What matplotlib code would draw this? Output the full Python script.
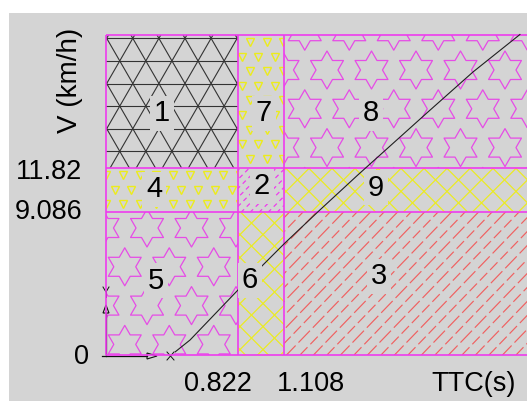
import numpy as np
import matplotlib
matplotlib.use('Agg')
import matplotlib.pyplot as plt
from matplotlib.patches import Rectangle, Polygon
from matplotlib.collections import LineCollection, PolyCollection

plt.rcParams['font.family'] = ['Liberation Sans', 'DejaVu Sans']

# ---------------- data ----------------
x_breaks = [0.822, 1.108]          # TTC thresholds (s)
y_breaks = [9.086, 11.82]          # speed thresholds (km/h)
x_max = 2.615
y_max = 20.3
curve_ttc = [0.43, 0.522, 0.820, 1.112, 1.329, 1.565, 1.994, 2.280, 2.571]
curve_v = [0.2, 0.95, 4.12, 7.10, 9.19, 11.41, 15.34, 17.93, 20.3]
# region ids: rows bottom->top, cols left->right
region_ids = [[5, 6, 3],
              [4, 2, 9],
              [1, 7, 8]]
region_label_x = {1: 0.348, 7: 0.981, 8: 1.646, 4: 0.298, 2: 0.969, 9: 1.677,
                  5: 0.311, 6: 0.894, 3: 1.695}
region_label_y = {1: 15.3, 7: 15.3, 8: 15.3, 4: 10.5, 2: 10.7, 9: 10.6,
                  5: 4.7, 6: 4.75, 3: 5.0}
x_label = 'TTC(s)'
y_label = 'V (km/h)'

# ---------------- styles ----------------
BG = '#d4d4d4'
MAG = '#ee3cee'
STAR = '#e64ce6'
YEL = '#ecec1c'
SAL = '#f06060'
LAT = '#333333'

W, H = 527, 401
fig = plt.figure(figsize=(W / 100, H / 100), dpi=100)
fig.patch.set_facecolor('white')
fig.add_artist(Rectangle((9 / W, 0), 1 - 9 / W, 1 - 13 / H, transform=fig.transFigure,
                         facecolor=BG, edgecolor='none', zorder=0))

# pixel overlay axes (image coords, y down)
pax = fig.add_axes([0, 0, 1, 1])
pax.set_xlim(0, W)
pax.set_ylim(H, 0)
pax.axis('off')
pax.patch.set_alpha(0)

ax = fig.add_axes([106 / W, 1 - 355 / H, (W - 106) / W, (355 - 34.5) / H])
ax.set_xlim(0, x_max)
ax.set_ylim(0, y_max)
ax.axis('off')
ax.patch.set_alpha(0)
ax.set_zorder(3)


def to_px(x, y):
    d = ax.transData.transform((x, y))
    return d[0], H - d[1]


xe = [0] + x_breaks + [x_max]
ye = [0] + y_breaks + [y_max]


def region_rect(i, j):
    x0, y0 = to_px(xe[j], ye[i])
    x1, y1 = to_px(xe[j + 1], ye[i + 1])
    return (min(x0, x1), max(x0, x1), min(y0, y1), max(y0, y1))


def clip_patch(r):
    x0, x1, y0, y1 = r
    return Rectangle((x0, y0), x1 - x0, y1 - y0, transform=pax.transData)


def add_lines(segs, r, color, lw, ls='solid'):
    lc = LineCollection(segs, colors=color, linewidths=lw, linestyles=ls)
    pax.add_collection(lc)
    lc.set_clip_path(clip_patch(r))


def parallel(r, angle, sp, phase, L=600, ks=range(-80, 80)):
    x0, x1, y0, y1 = r
    a = np.deg2rad(angle)
    d = np.array([np.cos(a), -np.sin(a)])
    segs = []
    for k in ks:
        p = np.array([phase + k * sp, y0])
        segs.append([p - L * d, p + L * d])
    return segs


def pat_lattice(r):
    x0, x1, y0, y1 = r
    h = 22.6
    s = h / np.sin(np.pi / 3)
    segs = []
    for k in range(-20, 20):
        y = 38.3 + k * h
        if y0 - 1 <= y <= y1 + 1:
            segs.append([(x0 - 5, y), (x1 + 5, y)])
    t = np.tan(np.pi / 3)
    L = 400
    for n in range(-40, 40):
        xv = 106.7 + n * s
        for sg in (1, -1):
            segs.append([(xv - L, 38.3 - sg * t * L), (xv + L, 38.3 + sg * t * L)])
    add_lines(segs, r, LAT, 0.8)


def pat_tri(r, ax0, ay0):
    x0, x1, y0, y1 = r
    dx, dy = 16.7, 14.6
    xs, ys = [], []
    for j in range(-30, 30):
        y = ay0 + j * dy
        if y < y0 - 10 or y > y1 + 10:
            continue
        off = (dx / 2) * (j % 2)
        for i in range(-40, 40):
            x = ax0 + i * dx - off
            if x0 - 10 <= x <= x1 + 10:
                xs.append(x)
                ys.append(y)
    ln, = pax.plot(xs, ys, ls='none', marker='v', ms=5.6, mfc='none', mec=YEL, mew=1.0)
    ln.set_clip_path(clip_patch(r))


def hexagram(cx, cy, R):
    pts = []
    for k in range(12):
        ang = np.pi / 2 + k * np.pi / 6
        rr = R if k % 2 == 0 else R / np.sqrt(3)
        pts.append((cx + rr * np.cos(ang), cy + rr * np.sin(ang)))
    return pts


def pat_star(r, ax0, ay0):
    x0, x1, y0, y1 = r
    dx, dy = 44.5, 38.8
    polys = []
    for j in range(-12, 12):
        y = ay0 + j * dy
        if y < y0 - 25 or y > y1 + 25:
            continue
        off = (dx / 2) * (j % 2)
        for i in range(-20, 20):
            x = ax0 + i * dx - off
            if x0 - 25 <= x <= x1 + 25:
                polys.append(hexagram(x, y, 19))
    pc = PolyCollection(polys, facecolors='none', edgecolors=STAR, linewidths=0.9)
    pax.add_collection(pc)
    pc.set_clip_path(clip_patch(r))


def pat_cross(r):
    segs = parallel(r, 45, 23, 240) + parallel(r, -45, 23, 240)
    add_lines(segs, r, YEL, 0.85)


def pat_dash(r):
    segs = parallel(r, 45, 9, 240)
    add_lines(segs, r, MAG, 0.9, ls=(0, (3.5, 3)))


def pat_red(r):
    segs_a = parallel(r, 46, 13.5, 290, ks=range(-80, 80, 2))
    segs_b = parallel(r, 46, 13.5, 290, ks=range(-79, 80, 2))
    add_lines(segs_a, r, SAL, 0.85, ls=(0, (14, 3.5)))
    add_lines(segs_b, r, SAL, 0.85, ls=(7, (9, 3.5)))


for i in range(3):
    for j in range(3):
        rid = region_ids[i][j]
        r = region_rect(i, j)
        if rid == 1:
            pat_lattice(r)
        elif rid == 7:
            pat_tri(r, 250, 42)
        elif rid == 4:
            pat_tri(r, 123, 175)
        elif rid == 2:
            pat_dash(r)
        elif rid == 8:
            pat_star(r, 327, 70)
        elif rid == 5:
            pat_star(r, 147, 228)
        elif rid in (6, 9):
            pat_cross(r)
        elif rid == 3:
            pat_red(r)

# borders
ax.hlines(y_breaks + [y_max, 0], 0, x_max, colors=MAG, lw=1.2, clip_on=False, zorder=4)
ax.vlines(x_breaks + [0], 0, y_max, colors=MAG, lw=1.2, clip_on=False, zorder=4)

# curve
ax.plot(curve_ttc, curve_v, color='#202020', lw=0.8, zorder=5, clip_on=False)

# region labels
for rid in region_label_x:
    ax.text(region_label_x[rid], region_label_y[rid], str(rid), fontsize=21,
            ha='center', va='center', zorder=6,
            bbox=dict(facecolor=BG, edgecolor='none', pad=2.5))

# UCS icon
k = '#111111'
pax.plot([106, 106], [356, 313], color=k, lw=0.9, zorder=7)
pax.add_patch(Polygon([(103, 313), (109, 313), (106, 305)], closed=True, fill=False,
                      edgecolor=k, lw=0.8, zorder=7))
pax.plot([103, 106, 109], [287, 292, 287], color=k, lw=0.7, zorder=7)
pax.plot([106, 106], [292, 297], color=k, lw=0.7, zorder=7)
pax.plot([102, 147], [356, 356], color=k, lw=0.9, zorder=7)
pax.add_patch(Polygon([(147, 353), (147, 359), (157, 356)], closed=True, fill=False,
                      edgecolor=k, lw=0.8, zorder=7))
pax.plot([167, 174], [352, 360], color=k, lw=0.7, zorder=7)
pax.plot([167, 174], [360, 352], color=k, lw=0.7, zorder=7)

# tick labels and axis labels
fs = 19.5
for v, py, rx in [(y_breaks[1], 172, 82), (y_breaks[0], 212, 82), (0, 357, 89)]:
    txt = f'{v:g}'
    pax.text(rx, py, txt, fontsize=fs, ha='right', va='center', zorder=7)
for v, px in [(x_breaks[0], 218), (x_breaks[1], 311)]:
    pax.text(px, 384, f'{v:g}', fontsize=fs, ha='center', va='center', zorder=7)
pax.text(474, 384, x_label, fontsize=fs, ha='center', va='center', zorder=7)
pax.text(70, 80, y_label, fontsize=20, ha='center', va='center', rotation=90, zorder=7)

fig.savefig('out.png', dpi=100, facecolor=fig.get_facecolor())
